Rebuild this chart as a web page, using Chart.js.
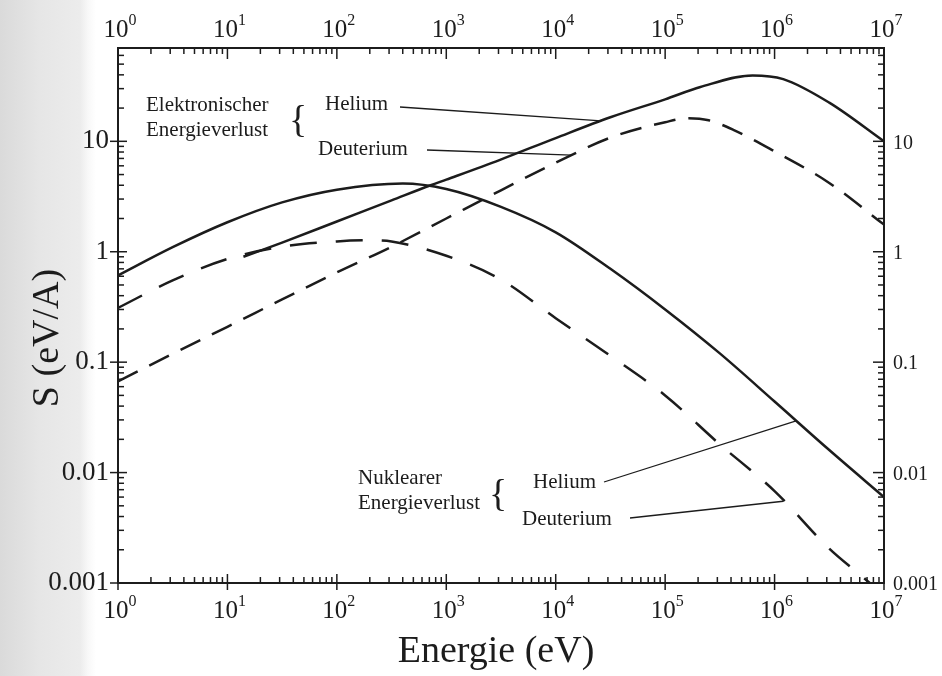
<!DOCTYPE html>
<html lang="de">
<head>
<meta charset="utf-8">
<script src="https://cdn.jsdelivr.net/npm/chart.js@4.4.1/dist/chart.umd.min.js"></script>
<style>
  html, body { margin: 0; padding: 0; }
  body {
    width: 942px; height: 676px; overflow: hidden;
    background: linear-gradient(to right, #dadada 0px, #e6e6e6 40px, #ececec 80px, #f8f8f8 88px, #ffffff 96px);
  }
</style>
</head>
<body>
<canvas id="bremsvermoegen" width="942" height="676"></canvas>
<script>
// Energie in eV, Bremsvermoegen S in eV/A
const energieElHe = [14, 31.6, 100, 316, 720, 1000, 3100, 1e4, 3.16e4, 1e5, 2.1e5, 6.3e5, 1.2e6, 3.16e6, 1e7];
const sElHe       = [0.9, 1.21, 1.88, 2.92, 4.0, 4.5, 6.8, 10.7, 16.5, 24, 31, 39.5, 36.6, 22.4, 10];

const energieElD = [1, 3.16, 10, 31.6, 100, 316, 1000, 3160, 1e4, 3.16e4, 1e5, 1.6e5, 2.5e5, 4.2e5, 1e6, 3.16e6, 1e7];
const sElD       = [0.067, 0.119, 0.209, 0.37, 0.65, 1.11, 2.0, 3.6, 6.4, 10.8, 14.9, 16.2, 15.5, 12.7, 8.1, 4.2, 1.76];

const energieNuHe = [1, 3.16, 10, 31.6, 100, 400, 1000, 3160, 1e4, 3.16e4, 1e5, 3.16e5, 1e6, 3.16e6, 1e7];
const sNuHe       = [0.61, 1.1, 1.85, 2.8, 3.65, 4.15, 3.7, 2.55, 1.5, 0.70, 0.30, 0.12, 0.044, 0.016, 0.006];

const energieNuD = [1, 3.16, 10, 31.6, 100, 200, 316, 1000, 3160, 1e4, 3.16e4, 1e5, 3.16e5, 1e6, 3.16e6, 7.4e6, 1e7];
const sNuD       = [0.31, 0.55, 0.86, 1.11, 1.24, 1.27, 1.24, 0.92, 0.56, 0.25, 0.114, 0.050, 0.018, 0.0068, 0.00205, 0.001, 0.00075];

const xTicks = [1, 10, 100, 1e3, 1e4, 1e5, 1e6, 1e7];
const xExponent = ['0', '1', '2', '3', '4', '5', '6', '7'];
const yTicks = [0.001, 0.01, 0.1, 1, 10];
const yLabels = ['0.001', '0.01', '0.1', '1', '10'];

const FARBE = '#1c1c1c';
const SERIF = '"Liberation Serif", "DejaVu Serif", serif';

const punkte = (xs, ys) => xs.map((e, i) => ({ x: e, y: ys[i] }));

const kurve = (label, xs, ys, dash) => ({
  label: label,
  data: punkte(xs, ys),
  borderColor: FARBE,
  borderWidth: 2.5,
  borderDash: dash,
  pointRadius: 0,
  cubicInterpolationMode: 'monotone',
  fill: false,
});

// Beschriftungen mit Hinweislinien zur jeweiligen Kurve
const hinweise = [
  { text: 'Helium', tx: 325, ty: 104, lx: 400, ly: 107, ziel: [2.6e4, 15.3] },
  { text: 'Deuterium', tx: 318, ty: 149, lx: 427, ly: 150, ziel: [1.4e4, 7.5] },
  { text: 'Helium', tx: 533, ty: 482, lx: 604, ly: 482, ziel: [1.6e6, 0.0295] },
  { text: 'Deuterium', tx: 522, ty: 519, lx: 630, ly: 518, ziel: [1.2e6, 0.0055] },
];

const achsenPlugin = {
  id: 'achsen',
  afterDatasetsDraw(chart) {
    const { ctx, chartArea: a, scales: { x, y } } = chart;
    ctx.save();
    ctx.strokeStyle = FARBE;
    ctx.fillStyle = FARBE;
    ctx.lineWidth = 2;
    ctx.strokeRect(a.left, a.top, a.right - a.left, a.bottom - a.top);

    // Teilstriche
    ctx.lineWidth = 1.5;
    const strich = (x1, y1, x2, y2) => {
      ctx.beginPath(); ctx.moveTo(x1, y1); ctx.lineTo(x2, y2); ctx.stroke();
    };
    for (let k = 0; k < 7; k++) {
      for (let m = 2; m <= 9; m++) {
        const px = x.getPixelForValue(m * Math.pow(10, k));
        strich(px, a.bottom, px, a.bottom - 6);
        strich(px, a.top, px, a.top + 6);
      }
    }
    for (let k = -3; k < 2; k++) {
      for (let m = 2; m <= 9; m++) {
        const v = m * Math.pow(10, k);
        if (v > y.max) break;
        const py = y.getPixelForValue(v);
        strich(a.left, py, a.left + 6, py);
        strich(a.right, py, a.right - 6, py);
      }
    }
    xTicks.forEach(v => {
      const px = x.getPixelForValue(v);
      strich(px, a.bottom + 7, px, a.bottom - 9);
      strich(px, a.top, px, a.top + 11);
    });
    yTicks.forEach(v => {
      const py = y.getPixelForValue(v);
      strich(a.left - 8, py, a.left + 9, py);
      strich(a.right, py, a.right - 11, py);
    });

    // Beschriftung der Energieachsen (unten und oben)
    const zehnHoch = (px, basisY, exp) => {
      ctx.font = '25px ' + SERIF;
      const wb = ctx.measureText('10').width;
      ctx.font = '16px ' + SERIF;
      const we = ctx.measureText(exp).width;
      const x0 = px - (wb + we) / 2 + 2;
      ctx.textAlign = 'left';
      ctx.textBaseline = 'alphabetic';
      ctx.font = '25px ' + SERIF;
      ctx.fillText('10', x0, basisY);
      ctx.font = '16px ' + SERIF;
      ctx.fillText(exp, x0 + wb, basisY - 12);
    };
    xTicks.forEach((v, i) => {
      const px = x.getPixelForValue(v);
      zehnHoch(px, a.bottom + 35, xExponent[i]);
      zehnHoch(px, a.top - 11, xExponent[i]);
    });

    // Beschriftung der S-Achsen (links und rechts)
    ctx.textBaseline = 'middle';
    yTicks.forEach((v, i) => {
      const py = y.getPixelForValue(v);
      ctx.font = '27px ' + SERIF;
      ctx.textAlign = 'right';
      ctx.fillText(yLabels[i], a.left - 9, py);
      ctx.font = '20px ' + SERIF;
      ctx.textAlign = 'left';
      ctx.fillText(yLabels[i], a.right + 9, py + 2);
    });

    // Achsentitel
    ctx.font = '38px ' + SERIF;
    ctx.textAlign = 'center';
    ctx.textBaseline = 'alphabetic';
    ctx.fillText('Energie (eV)', 496, 662);
    ctx.save();
    ctx.translate(58, 338);
    ctx.rotate(-Math.PI / 2);
    ctx.fillText('S (eV/A)', 0, 0);
    ctx.restore();

    // Gruppenbeschriftungen mit geschweifter Klammer
    ctx.font = '21px ' + SERIF;
    ctx.textAlign = 'left';
    ctx.textBaseline = 'middle';
    ctx.fillText('Elektronischer', 146, 105);
    ctx.fillText('Energieverlust', 146, 130);
    ctx.fillText('Nuklearer', 358, 478);
    ctx.fillText('Energieverlust', 358, 503);
    ctx.font = '38px ' + SERIF;
    ctx.fillText('{', 289, 122);
    ctx.fillText('{', 489, 496);

    ctx.font = '21px ' + SERIF;
    ctx.lineWidth = 1.3;
    hinweise.forEach(h => {
      ctx.fillText(h.text, h.tx, h.ty);
      strich(h.lx, h.ly, x.getPixelForValue(h.ziel[0]), y.getPixelForValue(h.ziel[1]));
    });
    ctx.restore();
  }
};

new Chart(document.getElementById('bremsvermoegen'), {
  type: 'line',
  data: {
    datasets: [
      kurve('Elektronisch Helium', energieElHe, sElHe, []),
      kurve('Elektronisch Deuterium', energieElD, sElD, [22, 13]),
      kurve('Nuklear Helium', energieNuHe, sNuHe, []),
      kurve('Nuklear Deuterium', energieNuD, sNuD, [27, 19]),
    ],
  },
  options: {
    responsive: false,
    animation: false,
    devicePixelRatio: 1,
    layout: { padding: { left: 118, right: 58, top: 48, bottom: 93 } },
    plugins: { legend: { display: false }, tooltip: { enabled: false } },
    scales: {
      x: { type: 'logarithmic', min: 1, max: 1e7, display: false },
      y: { type: 'logarithmic', min: 0.001, max: 70, display: false },
    },
  },
  plugins: [achsenPlugin],
});
</script>
</body>
</html>
